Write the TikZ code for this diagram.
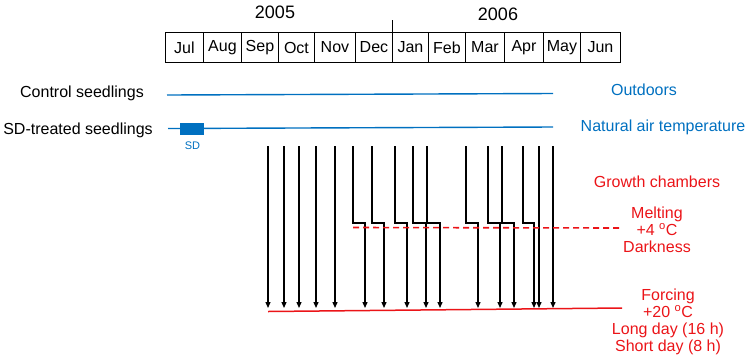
\documentclass[tikz,border=0pt]{standalone}
\usepackage{fontspec}
\setmainfont{Liberation Sans}
\usetikzlibrary{arrows.meta}
\definecolor{myblue}{RGB}{0,112,192}
\definecolor{myred}{RGB}{235,20,24}
\begin{document}
\begin{tikzpicture}[x=1pt,y=-1pt,
  month/.style={draw=black,line width=0.9pt,minimum height=30pt,inner sep=0pt,font=\fontsize{16}{18}\selectfont,anchor=west},
  lbl/.style={font=\fontsize{16}{18}\selectfont,inner sep=0pt},
  bluetxt/.style={lbl,text=myblue},
  redtxt/.style={font=\fontsize{16}{18}\selectfont,text=myred,align=center,inner sep=0pt},
  arr/.style={line width=1.3pt,-{Triangle[length=6pt,width=5pt]}},
  bline/.style={myblue,line width=1.4pt}]
\useasboundingbox (0,0) rectangle (750,360);
% month boxes
\node[month,minimum width=38pt] (jul) at (165,47.5) {Jul};
\node[month,minimum width=38pt] (aug) at (203,47.5) {Aug};
\node[month,minimum width=37pt] (sep) at (241,47.5) {Sep};
\node[month,minimum width=36pt] (oct) at (278,47.5) {Oct};
\node[month,minimum width=41pt] (nov) at (314,47.5) {Nov};
\node[month,minimum width=37pt] (dec) at (355,47.5) {Dec};
\node[month,minimum width=36pt] (jan) at (392,47.5) {Jan};
\node[month,minimum width=37pt] (feb) at (428,47.5) {Feb};
\node[month,minimum width=39pt] (mar) at (465,47.5) {Mar};
\node[month,minimum width=39pt] (apr) at (504,47.5) {Apr};
\node[month,minimum width=37pt] (may) at (543,47.5) {May};
\node[month,minimum width=40pt] (jun) at (580,47.5) {Jun};
\coordinate (ytick) at (392,20);
\coordinate (ybase) at (392,33);
\draw[line width=0.9pt] (ybase) -- (ytick);
\node[font=\fontsize{18}{20}\selectfont,inner sep=0pt] (y2005) at (275,12) {2005};
\node[font=\fontsize{18}{20}\selectfont,inner sep=0pt] (y2006) at (498,14) {2006};
% seedling rows
\node[lbl] (ctrl) at (82,93) {Control seedlings};
\node[lbl] (sdt) at (78,130) {SD-treated seedlings};
\coordinate (c1) at (167,95);
\coordinate (c2) at (553,93.5);
\coordinate (s1) at (168,128.5);
\coordinate (s2) at (553,127);
\draw[bline] (c1) -- (c2);
\draw[bline] (s1) -- (s2);
\node[fill=myblue,minimum width=24pt,minimum height=12pt,inner sep=0pt] (sdbox) at (192,129) {};
\node[font=\fontsize{11}{13}\selectfont,text=myblue,inner sep=0pt] (sdl) at (192.5,146) {SD};
\node[bluetxt] (outd) at (644,90) {Outdoors};
\node[bluetxt] (nat) at (663,127) {Natural air temperature};
% straight arrows
\foreach \i/\x in {1/268,2/284,3/299,4/316,5/335,6/539,7/553}{
  \coordinate (at\i) at (\x,146);
  \coordinate (ab\i) at (\x,308);
  \draw[arr] (at\i) -- (ab\i);
}
% stepped arrows
\foreach \i/\xa/\xb in {1/353/365,2/372/384,3/395/407,4/413/426,5/427/440,6/466/478,7/488/500,8/502/514,9/523/534}{
  \coordinate (st\i) at (\xa,146);
  \coordinate (sm\i) at (\xb,223);
  \coordinate (sb\i) at (\xb,308);
  \draw[arr] (st\i) |- (sm\i) -- (sb\i);
}
% red lines
\coordinate (r1) at (268,311.5);
\coordinate (r2) at (622,308);
\draw[myred,line width=1.5pt] (r1) -- (r2);
\coordinate (d1) at (353,227.5);
\coordinate (d2) at (620,228);
\draw[draw=myred,line width=1.6pt,dash pattern=on 6pt off 4pt] (d1) -- (d2);
% red texts
\node[redtxt] (gc) at (657,182) {Growth chambers};
\node[redtxt] (melt) at (657,230) {Melting\\[-1pt]+4 \textsuperscript{o}C\\[-1pt]Darkness};
\node[redtxt] (forc) at (668,322) {Forcing\\[-1pt]+20 \textsuperscript{o}C\\[-1pt]Long day (16 h)\\[-1pt]Short day (8 h)};
\end{tikzpicture}
\end{document}
